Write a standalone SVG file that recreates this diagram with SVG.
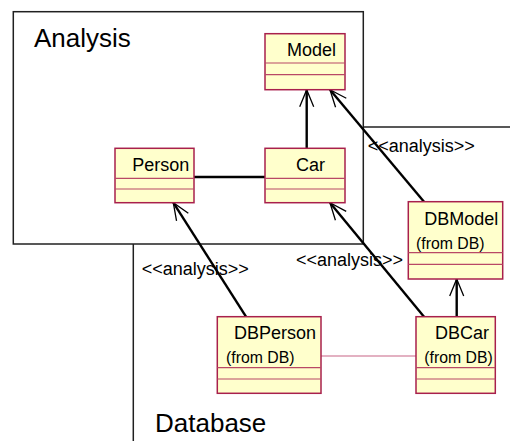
<svg xmlns="http://www.w3.org/2000/svg" width="510" height="441" viewBox="0 0 510 441">
  <style>
    .pkg { fill: none; stroke: #202020; stroke-width: 1.5; }
    .pkgname { font-family: "Liberation Sans", Arial, sans-serif; font-size: 26px; fill: #000; }
    .cls { fill: #ffffcc; stroke: #a8204c; stroke-width: 1.5; }
    .sep { stroke: #b84866; stroke-width: 1.2; }
    .name { font-family: "Liberation Sans", Arial, sans-serif; font-size: 18px; fill: #000; }
    .from { font-family: "Liberation Sans", Arial, sans-serif; font-size: 15.8px; fill: #000; }
    .stereo { font-family: "Liberation Sans", Arial, sans-serif; font-size: 18px; fill: #000; }
    .conn { stroke: #000; stroke-width: 2.4; fill: none; }
    .assoc-db { stroke: #c86486; stroke-width: 1.2; fill: none; }
  </style>
  <defs>
    <marker id="open-arrow" markerUnits="userSpaceOnUse" markerWidth="24" markerHeight="20" viewBox="-20 -10 24 20" refX="0" refY="0" orient="auto">
      <path d="M -17 -7 L 0 0 L -17 7" fill="none" stroke="#000" stroke-width="1.3"/>
    </marker>
  </defs>

  <rect width="510" height="441" fill="#ffffff"/>

  <!-- packages -->
  <g id="pkg-analysis">
    <rect class="pkg" x="13.3" y="11.7" width="350" height="232.3"/>
    <text class="pkgname" x="34" y="46.7">Analysis</text>
  </g>
  <g id="pkg-database">
    <line class="pkg" x1="133.3" y1="244" x2="133.3" y2="441"/>
    <line class="pkg" x1="363.3" y1="127" x2="510" y2="127"/>
    <text class="pkgname" x="155" y="431.5">Database</text>
  </g>

  <!-- connectors -->
  <g id="connectors">
    <line class="conn" x1="194" y1="177" x2="265" y2="177"/>
    <line class="conn" x1="306.7" y1="148.3" x2="306.7" y2="89.7" marker-end="url(#open-arrow)"/>
    <line class="conn" x1="424" y1="201.7" x2="330" y2="89.7" marker-end="url(#open-arrow)"/>
    <line class="conn" x1="424" y1="316.7" x2="330" y2="202.7" marker-end="url(#open-arrow)"/>
    <line class="conn" x1="246" y1="316.7" x2="173.3" y2="202.7" marker-end="url(#open-arrow)"/>
    <line class="conn" x1="456.7" y1="316.7" x2="456.7" y2="279" marker-end="url(#open-arrow)"/>
    <line class="assoc-db" x1="321" y1="356" x2="416" y2="356"/>
    <text class="stereo" x="367.7" y="151.7">&lt;&lt;analysis&gt;&gt;</text>
    <text class="stereo" x="141.7" y="275">&lt;&lt;analysis&gt;&gt;</text>
    <text class="stereo" x="296" y="266">&lt;&lt;analysis&gt;&gt;</text>
  </g>

  <!-- classes -->
  <g id="cls-model">
    <rect class="cls" x="265" y="33.7" width="80" height="56"/>
    <line class="sep" x1="265" y1="63" x2="345" y2="63"/>
    <line class="sep" x1="265" y1="74.7" x2="345" y2="74.7"/>
    <text class="name" x="287" y="56.3">Model</text>
  </g>
  <g id="cls-car">
    <rect class="cls" x="265" y="148.3" width="80" height="54.4"/>
    <line class="sep" x1="265" y1="178.3" x2="345" y2="178.3"/>
    <line class="sep" x1="265" y1="189" x2="345" y2="189"/>
    <text class="name" x="296" y="170.7">Car</text>
  </g>
  <g id="cls-person">
    <rect class="cls" x="115" y="148.3" width="79" height="54.4"/>
    <line class="sep" x1="115" y1="178.3" x2="194" y2="178.3"/>
    <line class="sep" x1="115" y1="189" x2="194" y2="189"/>
    <text class="name" x="132.3" y="170.7">Person</text>
  </g>
  <g id="cls-dbmodel">
    <rect class="cls" x="408.3" y="201.7" width="94.4" height="77.3"/>
    <line class="sep" x1="408.3" y1="252.7" x2="502.7" y2="252.7"/>
    <line class="sep" x1="408.3" y1="264.3" x2="502.7" y2="264.3"/>
    <text class="name" x="424.3" y="225">DBModel</text>
    <text class="from" x="416" y="249">(from DB)</text>
  </g>
  <g id="cls-dbperson">
    <rect class="cls" x="217.3" y="316.7" width="103.7" height="76.6"/>
    <line class="sep" x1="217.3" y1="367.7" x2="321" y2="367.7"/>
    <line class="sep" x1="217.3" y1="379" x2="321" y2="379"/>
    <text class="name" x="234" y="339">DBPerson</text>
    <text class="from" x="226" y="363.3">(from DB)</text>
  </g>
  <g id="cls-dbcar">
    <rect class="cls" x="416" y="316.7" width="79.3" height="76.6"/>
    <line class="sep" x1="416" y1="367.7" x2="495.3" y2="367.7"/>
    <line class="sep" x1="416" y1="379" x2="495.3" y2="379"/>
    <text class="name" x="435" y="339">DBCar</text>
    <text class="from" x="424.3" y="363.3">(from DB)</text>
  </g>
</svg>
